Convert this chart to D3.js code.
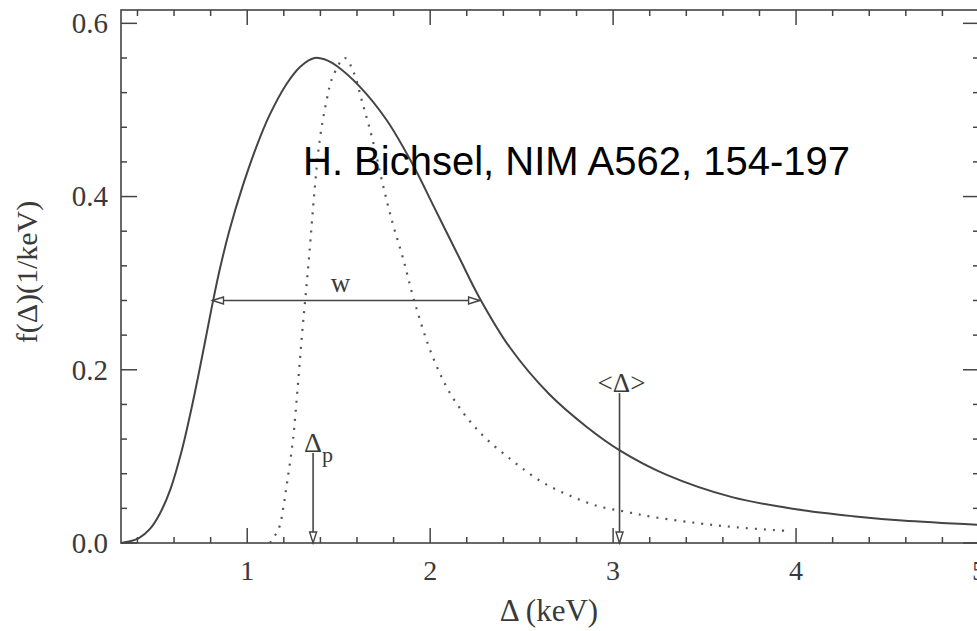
<!DOCTYPE html>
<html>
<head>
<meta charset="utf-8">
<script src="https://cdn.jsdelivr.net/npm/d3@7"></script>
<style>
  html, body { margin: 0; padding: 0; background: #fff; overflow: hidden; }
  svg { display: block; }
</style>
</head>
<body>
<svg id="chart" width="977" height="631"></svg>
<script>
// ---- data ----
const solidX = [0.31, 0.36, 0.41, 0.467, 0.52, 0.58, 0.64, 0.70, 0.756, 0.806, 0.85, 0.904, 0.975, 1.051, 1.122, 1.215, 1.29, 1.368, 1.44, 1.488, 1.615, 1.76, 1.905, 2.014, 2.16, 2.27, 2.435, 2.65, 2.856, 3.036, 3.29, 3.65, 4.0, 4.31, 4.58, 5.0];
const solidY = [0.0, 0.002, 0.006, 0.016, 0.033, 0.062, 0.105, 0.160, 0.218, 0.272, 0.316, 0.362, 0.412, 0.458, 0.494, 0.530, 0.550, 0.560, 0.557, 0.551, 0.527, 0.489, 0.437, 0.391, 0.329, 0.283, 0.226, 0.172, 0.134, 0.107, 0.079, 0.053, 0.039, 0.031, 0.026, 0.021];

const dottedX = [1.125, 1.15, 1.178, 1.20, 1.22, 1.25, 1.276, 1.30, 1.32, 1.34, 1.368, 1.396, 1.434, 1.467, 1.533, 1.577, 1.63, 1.686, 1.74, 1.795, 1.85, 1.915, 2.014, 2.123, 2.27, 2.45, 2.615, 2.76, 2.91, 3.07, 3.22, 3.46, 3.68, 3.95];
const dottedY = [0.0, 0.008, 0.020, 0.045, 0.073, 0.119, 0.180, 0.242, 0.288, 0.335, 0.407, 0.465, 0.511, 0.538, 0.560, 0.546, 0.508, 0.465, 0.415, 0.369, 0.330, 0.278, 0.215, 0.168, 0.128, 0.095, 0.070, 0.055, 0.043, 0.036, 0.030, 0.023, 0.018, 0.014];

const xTickValues = [1, 2, 3, 4, 5];
const xTickLabels = ["1", "2", "3", "4", "5"];
const yTickValues = [0.0, 0.2, 0.4, 0.6];
const yTickLabels = ["0.0", "0.2", "0.4", "0.6"];

const xTitle = "Δ (keV)";
const yTitle = "f(Δ)(1/keV)";
const creditText = "H. Bichsel, NIM A562, 154-197";

// annotation anchors (data units)
const widthBar = { x0: 0.81, x1: 2.27, y: 0.28, label: "w", labelX: 1.51 };
const mpvArrow = { x: 1.36, yTop: 0.104, label: "Δ", sub: "p" };
const meanArrow = { x: 3.035, yTop: 0.173, label: "<Δ>" };

// ---- layout ----
const svg = d3.select("#chart");
const pLeft = 121, pRight = 979, pTop = 10, pBottom = 543;
const x = d3.scaleLinear().domain([0.31, 5.0]).range([pLeft, pRight]);
const y = d3.scaleLinear().domain([0, 0.6154]).range([pBottom, pTop]);

const ink = "#444";
const serif = "'Liberation Serif', 'DejaVu Serif', serif";

// frame
svg.append("rect").attr("x", pLeft).attr("y", pTop)
  .attr("width", pRight - pLeft).attr("height", pBottom - pTop)
  .attr("fill", "none").attr("stroke", ink).attr("stroke-width", 1.6);

// ticks
const xMinor = d3.range(0.4, 5.001, 0.2).map(v => +v.toFixed(2)).filter(v => Math.abs(v - Math.round(v)) > 1e-6);
const yMinor = d3.range(0.04, 0.6, 0.04).map(v => +v.toFixed(2)).filter(v => Math.abs(v / 0.2 - Math.round(v / 0.2)) > 1e-6);

function hTicks(vals, len, ypos, dir) {
  svg.append("g").selectAll("line").data(vals).join("line")
    .attr("x1", d => x(d)).attr("x2", d => x(d))
    .attr("y1", ypos).attr("y2", ypos + dir * len)
    .attr("stroke", ink).attr("stroke-width", 1.5);
}
function vTicks(vals, len, xpos, dir) {
  svg.append("g").selectAll("line").data(vals).join("line")
    .attr("y1", d => y(d)).attr("y2", d => y(d))
    .attr("x1", xpos).attr("x2", xpos + dir * len)
    .attr("stroke", ink).attr("stroke-width", 1.5);
}
hTicks(xTickValues, 15, pBottom, -1);
hTicks(xMinor, 6, pBottom, -1);
hTicks(xTickValues, 15, pTop, 1);
hTicks(xMinor, 6, pTop, 1);
vTicks(yTickValues, 16, pLeft, 1);
vTicks(yMinor, 6, pLeft, 1);
vTicks(yTickValues, 16, pRight, -1);
vTicks(yMinor, 6, pRight, -1);

// tick labels
svg.append("g").selectAll("text").data(xTickValues).join("text")
  .attr("x", d => x(d)).attr("y", 580)
  .attr("text-anchor", "middle")
  .attr("font-family", serif).attr("font-size", 28).attr("fill", "#3a3a3a")
  .text((d, i) => xTickLabels[i]);
svg.append("g").selectAll("text").data(yTickValues).join("text")
  .attr("x", 108).attr("y", d => y(d))
  .attr("dy", "0.34em")
  .attr("text-anchor", "end")
  .attr("font-family", serif).attr("font-size", 29).attr("fill", "#3a3a3a")
  .text((d, i) => yTickLabels[i]);

// axis titles
svg.append("text").attr("x", 549).attr("y", 621)
  .attr("text-anchor", "middle")
  .attr("font-family", serif).attr("font-size", 31).attr("fill", "#3a3a3a")
  .text(xTitle);
svg.append("text").attr("transform", "translate(37,272) rotate(-90)")
  .attr("text-anchor", "middle")
  .attr("font-family", serif).attr("font-size", 30).attr("fill", "#3a3a3a")
  .text(yTitle);

// curves
const plot = svg.append("g");
const line = d3.line().x(d => x(d[0])).y(d => y(d[1])).curve(d3.curveCatmullRom.alpha(0.5));
plot.append("path").datum(solidX.map((v, i) => [v, solidY[i]]))
  .attr("d", line).attr("fill", "none").attr("stroke", ink).attr("stroke-width", 2);
plot.append("path").datum(dottedX.map((v, i) => [v, dottedY[i]]))
  .attr("d", line).attr("fill", "none").attr("stroke", "#555").attr("stroke-width", 2.2)
  .attr("stroke-dasharray", "2,7");

// annotations
function openHead(tipX, tipY, dx, dy) {
  const len = 11, hw = 3.5;
  const bx = tipX - dx * len, by = tipY - dy * len;
  const px = -dy, py = dx;
  const pts = [[tipX, tipY], [bx + px * hw, by + py * hw], [bx - px * hw, by - py * hw]];
  svg.append("path").attr("d", "M" + pts.map(p => p.join(",")).join("L") + "Z")
    .attr("fill", "#fff").attr("stroke", ink).attr("stroke-width", 1.4);
}

// w bar
svg.append("line").attr("x1", x(widthBar.x0)).attr("x2", x(widthBar.x1))
  .attr("y1", y(widthBar.y)).attr("y2", y(widthBar.y))
  .attr("stroke", ink).attr("stroke-width", 1.6);
openHead(x(widthBar.x0), y(widthBar.y), -1, 0);
openHead(x(widthBar.x1), y(widthBar.y), 1, 0);
svg.append("text").attr("x", x(widthBar.labelX)).attr("y", y(widthBar.y) - 8)
  .attr("text-anchor", "middle")
  .attr("font-family", serif).attr("font-size", 27).attr("fill", "#3a3a3a")
  .text(widthBar.label);

// most probable arrow
svg.append("line").attr("x1", x(mpvArrow.x)).attr("x2", x(mpvArrow.x))
  .attr("y1", y(mpvArrow.yTop)).attr("y2", pBottom)
  .attr("stroke", ink).attr("stroke-width", 1.6);
openHead(x(mpvArrow.x), pBottom, 0, 1);
const mpvLabel = svg.append("text").attr("x", x(mpvArrow.x) - 9).attr("y", y(mpvArrow.yTop) - 1)
  .attr("font-family", serif).attr("font-size", 28).attr("fill", "#3a3a3a");
mpvLabel.append("tspan").text(mpvArrow.label);
mpvLabel.append("tspan").attr("dy", 10).attr("font-size", 22).text(mpvArrow.sub);

// mean arrow
svg.append("line").attr("x1", x(meanArrow.x)).attr("x2", x(meanArrow.x))
  .attr("y1", y(meanArrow.yTop)).attr("y2", pBottom)
  .attr("stroke", ink).attr("stroke-width", 1.6);
openHead(x(meanArrow.x), pBottom, 0, 1);
svg.append("text").attr("x", x(meanArrow.x) + 2).attr("y", y(meanArrow.yTop) - 1)
  .attr("text-anchor", "middle")
  .attr("font-family", serif).attr("font-size", 27).attr("fill", "#3a3a3a")
  .text(meanArrow.label);

// credit
svg.append("text").attr("x", 303).attr("y", 175)
  .attr("font-family", "'Liberation Sans', Arial, sans-serif").attr("font-size", 40).attr("fill", "#000")
  .text(creditText);
</script>
</body>
</html>
